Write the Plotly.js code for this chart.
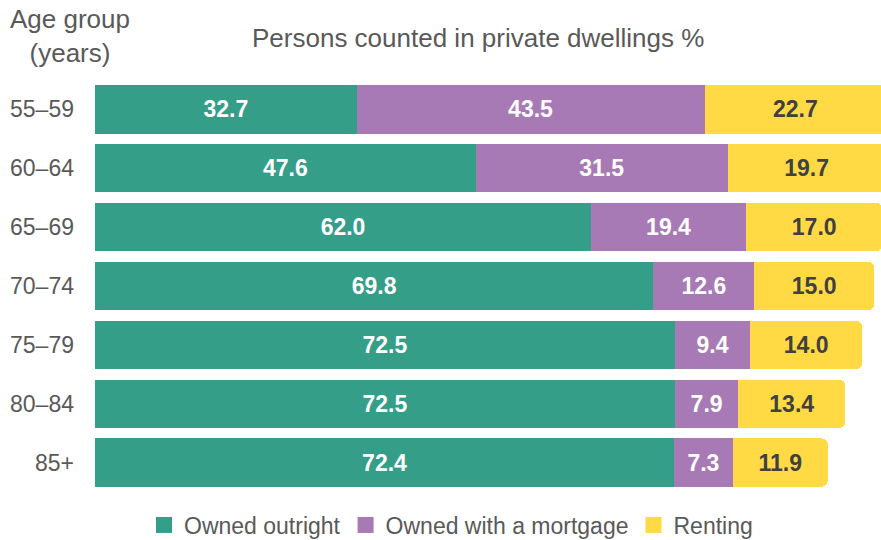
<!DOCTYPE html>
<html>
<head>
<meta charset="utf-8">
<script src="https://cdn.plot.ly/plotly-3.0.1.min.js"></script>
<style>html,body{margin:0;padding:0;background:#fff;}#chart{width:881px;height:540px;}</style>
</head>
<body>
<div id="chart"></div>
<script>
const ageGroups = ["55–59", "60–64", "65–69", "70–74", "75–79", "80–84", "85+"];
const ownedOutright = [32.7, 47.6, 62.0, 69.8, 72.5, 72.5, 72.4];
const ownedMortgage = [43.5, 31.5, 19.4, 12.6, 9.4, 7.9, 7.3];
const renting = [22.7, 19.7, 17.0, 15.0, 14.0, 13.4, 11.9];
const seriesNames = ["Owned outright", "Owned with a mortgage", "Renting"];
const colors = ["#349E88", "#A87AB5", "#FFDA45"];
const textColors = ["#FFFFFF", "#FFFFFF", "#404040"];

const FONT = "Liberation Sans, Arial, sans-serif";
const seriesData = [ownedOutright, ownedMortgage, renting];
const traces = seriesData.map((vals, i) => ({
  type: "bar",
  orientation: "h",
  name: seriesNames[i],
  y: ageGroups,
  x: vals,
  showlegend: false,
  marker: {color: colors[i], line: {width: 0}},
  text: vals.map(v => v.toFixed(1)),
  textposition: "inside",
  insidetextanchor: "middle",
  textangle: 0,
  textfont: {family: FONT, size: 23, color: textColors[i], weight: "bold"},
  hoverinfo: "skip",
  cliponaxis: true
}));
// legend entries with larger markers
seriesNames.forEach((n, i) => {
  traces.push({
    type: "scatter", mode: "markers", name: n,
    x: [null], y: [null],
    marker: {symbol: "square", size: 16, color: colors[i]},
    showlegend: true, hoverinfo: "skip"
  });
});

const layout = {
  width: 881, height: 540,
  margin: {l: 95, r: 0, t: 80, b: 48},
  paper_bgcolor: "#fff", plot_bgcolor: "#fff",
  barmode: "stack",
  bargap: 0.18,
  barcornerradius: 6,
  font: {family: FONT, color: "#595959", size: 23},
  xaxis: {range: [0, 98.25], visible: false, fixedrange: true},
  yaxis: {autorange: "reversed", showgrid: false, zeroline: false, showline: false, ticks: "",
          ticklabelstandoff: 20, tickfont: {size: 23, color: "#595959"}},
  showlegend: true,
  legend: {orientation: "h", traceorder: "normal", xref: "container", yref: "container",
           x: 451 / 881, xanchor: "center", y: 15 / 540, yanchor: "middle",
           font: {size: 23, color: "#595959"}, tracegroupgap: 0, itemsizing: "trace"},
  annotations: [
    {text: "Persons counted in private dwellings %", xref: "paper", yref: "paper",
     x: (478 - 95) / 786, y: 1 + (80 - 38) / 412, xanchor: "center", yanchor: "middle",
     showarrow: false, font: {size: 26, color: "#595959"}},
    {text: "Age group<br>(years)", xref: "paper", yref: "paper",
     x: (70 - 95) / 786, y: 1 + (80 - 36) / 412, xanchor: "center", yanchor: "middle",
     showarrow: false, align: "center", font: {size: 26, color: "#595959"}}
  ]
};

Plotly.newPlot("chart", traces, layout, {displayModeBar: false, staticPlot: true});
</script>
</body>
</html>
